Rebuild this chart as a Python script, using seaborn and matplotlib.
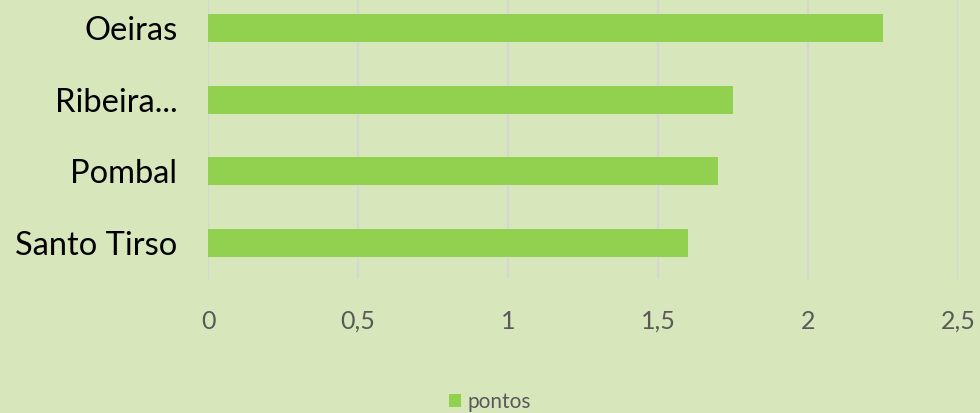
import matplotlib
matplotlib.use("Agg")
import matplotlib.pyplot as plt
import seaborn as sns
import pandas as pd

# Chart data
categories = ["Oeiras", "Ribeira...", "Pombal", "Santo Tirso"]
pontos = [2.25, 1.75, 1.70, 1.60]
x_ticks = [0, 0.5, 1, 1.5, 2, 2.5]
x_tick_labels = ["0", "0,5", "1", "1,5", "2", "2,5"]

bg = "#d8e6bc"
bar_color = "#92d050"

df = pd.DataFrame({"cat": categories, "pontos": pontos})

sns.set_theme(style="white")
plt.rcParams["font.family"] = ["Lato", "DejaVu Sans"]

fig = plt.figure(figsize=(9.8, 4.13), dpi=100, facecolor=bg)
ax = fig.add_axes([208 / 980, 1 - 279 / 413, 750 / 980, 287 / 413])
ax.set_facecolor(bg)

sns.barplot(data=df, x="pontos", y="cat", color=bar_color, width=0.39,
            saturation=1, linewidth=0, ax=ax, label="pontos")

ax.set_xlim(0, 2.5)
ax.set_xticks(x_ticks)
ax.set_xticklabels(x_tick_labels, color="#595959", fontsize=18)
ax.tick_params(axis="x", length=0, pad=22)
ax.tick_params(axis="y", length=0, pad=22, labelsize=23.5, labelcolor="black")
ax.grid(axis="x", color="#d6d6d2", linewidth=1.5)
ax.set_axisbelow(True)
for s in ax.spines.values():
    s.set_visible(False)
ax.set_xlabel("")
ax.set_ylabel("")

ax.legend(loc="center", bbox_to_anchor=(0.5, 1 - 402 / 413),
          bbox_transform=fig.transFigure, frameon=False, fontsize=15,
          handlelength=0.6, handleheight=0.6, handletextpad=0.3,
          labelcolor="#595959")

fig.savefig("out.png", dpi=100, facecolor=bg)
